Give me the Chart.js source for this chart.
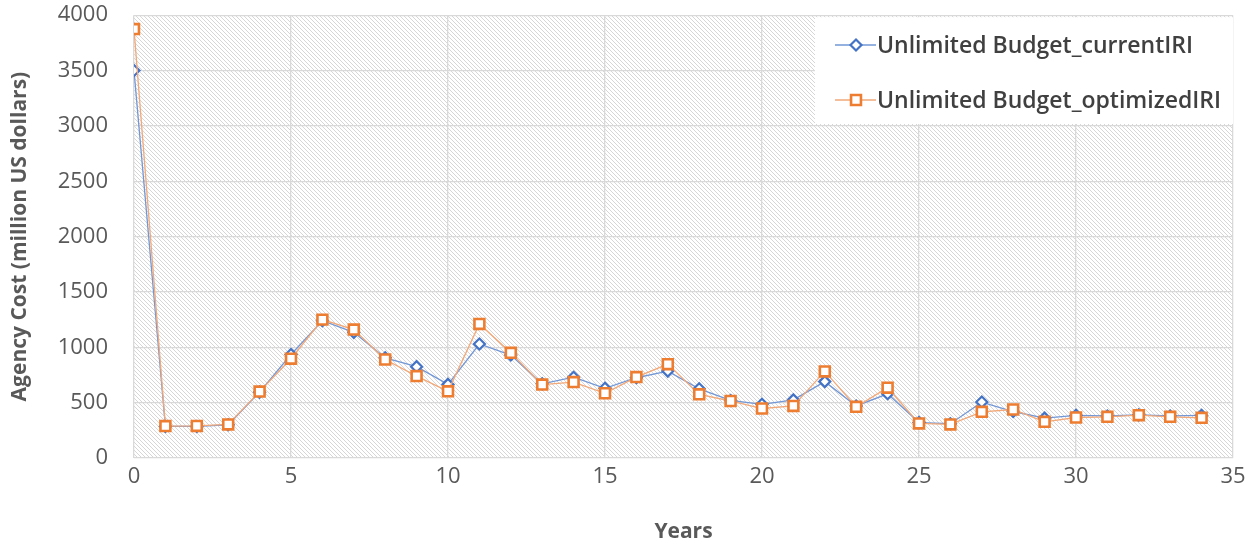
<!DOCTYPE html>
<html>
<head>
<meta charset="utf-8">
<script src="https://cdn.jsdelivr.net/npm/chart.js@4/dist/chart.umd.min.js"></script>
<style>
  html, body { margin: 0; padding: 0; background: #fff; }
  #wrap { width: 1260px; height: 546px; }
</style>
</head>
<body>
<div id="wrap"><canvas id="costChart" width="1260" height="546"></canvas></div>
<script>
const years = [0, 1, 2, 3, 4, 5, 6, 7, 8, 9, 10, 11, 12, 13, 14, 15, 16, 17, 18, 19, 20, 21, 22, 23, 24, 25, 26, 27, 28, 29, 30, 31, 32, 33, 34];
const currentIRI = [3500, 285, 285, 300, 595, 935, 1240, 1135, 905, 825, 665, 1030, 930, 670, 730, 630, 725, 785, 625, 520, 485, 525, 690, 470, 580, 320, 310, 505, 420, 360, 385, 380, 390, 380, 385];
const optimizedIRI = [3875, 288, 290, 303, 600, 897, 1250, 1160, 890, 740, 602, 1211, 950, 663, 686, 585, 731, 848, 575, 515, 447, 470, 782, 462, 635, 312, 303, 417, 438, 327, 366, 372, 387, 372, 363];
const seriesNames = ['Unlimited Budget_currentIRI', 'Unlimited Budget_optimizedIRI'];
const yTicks = [0, 500, 1000, 1500, 2000, 2500, 3000, 3500, 4000];
const xTicks = [0, 5, 10, 15, 20, 25, 30, 35];

const toPoints = vals => years.map((yr, i) => ({ x: yr, y: vals[i] }));

// light diagonal hatch for the plot area, one pixel per row
function makeHatch(ctx) {
  const c = document.createElement('canvas');
  c.width = 4; c.height = 4;
  const g = c.getContext('2d');
  g.fillStyle = '#ffffff';
  g.fillRect(0, 0, 4, 4);
  g.fillStyle = '#d6d6d6';
  for (let i = 0; i < 4; i++) g.fillRect(i, i, 1, 1);
  return ctx.createPattern(c, 'repeat');
}

const hatchBg = {
  id: 'hatchBg',
  beforeDraw(chart) {
    const { ctx, chartArea: a } = chart;
    ctx.save();
    ctx.fillStyle = makeHatch(ctx);
    ctx.fillRect(a.left, a.top, a.right - a.left, a.bottom - a.top);
    ctx.restore();
  }
};

const boxLegend = {
  id: 'boxLegend',
  afterDraw(chart) {
    const { ctx, chartArea: a } = chart;
    const left = 815, top = a.top + 2, bottom = 124;
    ctx.save();
    ctx.fillStyle = '#ffffff';
    ctx.fillRect(left, top, a.right - left, bottom - top);
    const rows = [45, 100];
    [0, 1].forEach(i => {
      const ds = chart.data.datasets.find(d => d.label === seriesNames[i]);
      const y = rows[i];
      ctx.strokeStyle = ds.borderColor;
      ctx.lineWidth = 1.5;
      ctx.beginPath();
      ctx.moveTo(835, y); ctx.lineTo(876, y);
      ctx.stroke();
      ctx.fillStyle = '#ffffff';
      ctx.strokeStyle = ds.pointBorderColor;
      ctx.lineWidth = ds.pointBorderWidth;
      Chart.helpers.drawPoint(ctx, {
        pointStyle: ds.pointStyle, radius: ds.pointRadius,
        borderWidth: ds.pointBorderWidth, rotation: 0
      }, 856, y);
      ctx.fillStyle = '#404040';
      ctx.font = '600 23px "Open Sans"';
      ctx.textBaseline = 'middle';
      ctx.textAlign = 'left';
      ctx.fillText(seriesNames[i], 877, y + 1);
    });
    ctx.restore();
  }
};

new Chart(document.getElementById('costChart'), {
  type: 'line',
  data: {
    datasets: [
      {
        label: seriesNames[0],
        data: toPoints(currentIRI),
        borderColor: '#7297d6',
        borderWidth: 1.3,
        pointStyle: 'rectRot',
        pointRadius: 5.5,
        pointBorderWidth: 2.2,
        pointBorderColor: '#4472c4',
        pointBackgroundColor: '#ffffff',
        order: 1
      },
      {
        label: seriesNames[1],
        data: toPoints(optimizedIRI),
        borderColor: '#f2a878',
        borderWidth: 1.3,
        pointStyle: 'rect',
        pointRadius: 7,
        pointBorderWidth: 2.6,
        pointBorderColor: '#ed7d31',
        pointBackgroundColor: '#ffffff',
        order: 0
      }
    ]
  },
  options: {
    responsive: false,
    animation: false,
    layout: { padding: { top: 0, right: 27, left: 0, bottom: 0 } },
    plugins: {
      legend: { display: false },
      tooltip: { enabled: false }
    },
    scales: {
      x: {
        type: 'linear',
        min: 0, max: 35,
        afterBuildTicks: s => { s.ticks = xTicks.map(v => ({ value: v })); },
        afterFit: s => { s.height = 88; },
        grid: { color: '#d9d9d9', lineWidth: 1.3, drawTicks: false },
        border: { display: false },
        ticks: { color: '#595959', font: { family: 'Open Sans', size: 22 }, padding: 6, callback: v => String(v) },
        title: {
          display: true, text: 'Years', color: '#595959',
          font: { family: 'Open Sans', size: 21, weight: 'bold' }, padding: { top: 4, bottom: 1 }
        }
      },
      y: {
        min: 0, max: 4000,
        afterBuildTicks: s => { s.ticks = yTicks.map(v => ({ value: v })); },
        afterFit: s => { s.width = 134; },
        grid: { color: '#d9d9d9', lineWidth: 1.3, drawTicks: true, tickLength: 24, tickColor: 'rgba(0,0,0,0)' },
        border: { display: false },
        ticks: { color: '#595959', font: { family: 'Open Sans', size: 22 }, padding: 2, callback: v => String(v) },
        title: {
          display: true, text: 'Agency Cost (million US dollars)', color: '#595959',
          font: { family: 'Open Sans', size: 21, weight: 'bold' }, padding: { top: 7, bottom: 0 }
        }
      }
    }
  },
  plugins: [hatchBg, boxLegend]
});
</script>
</body>
</html>
